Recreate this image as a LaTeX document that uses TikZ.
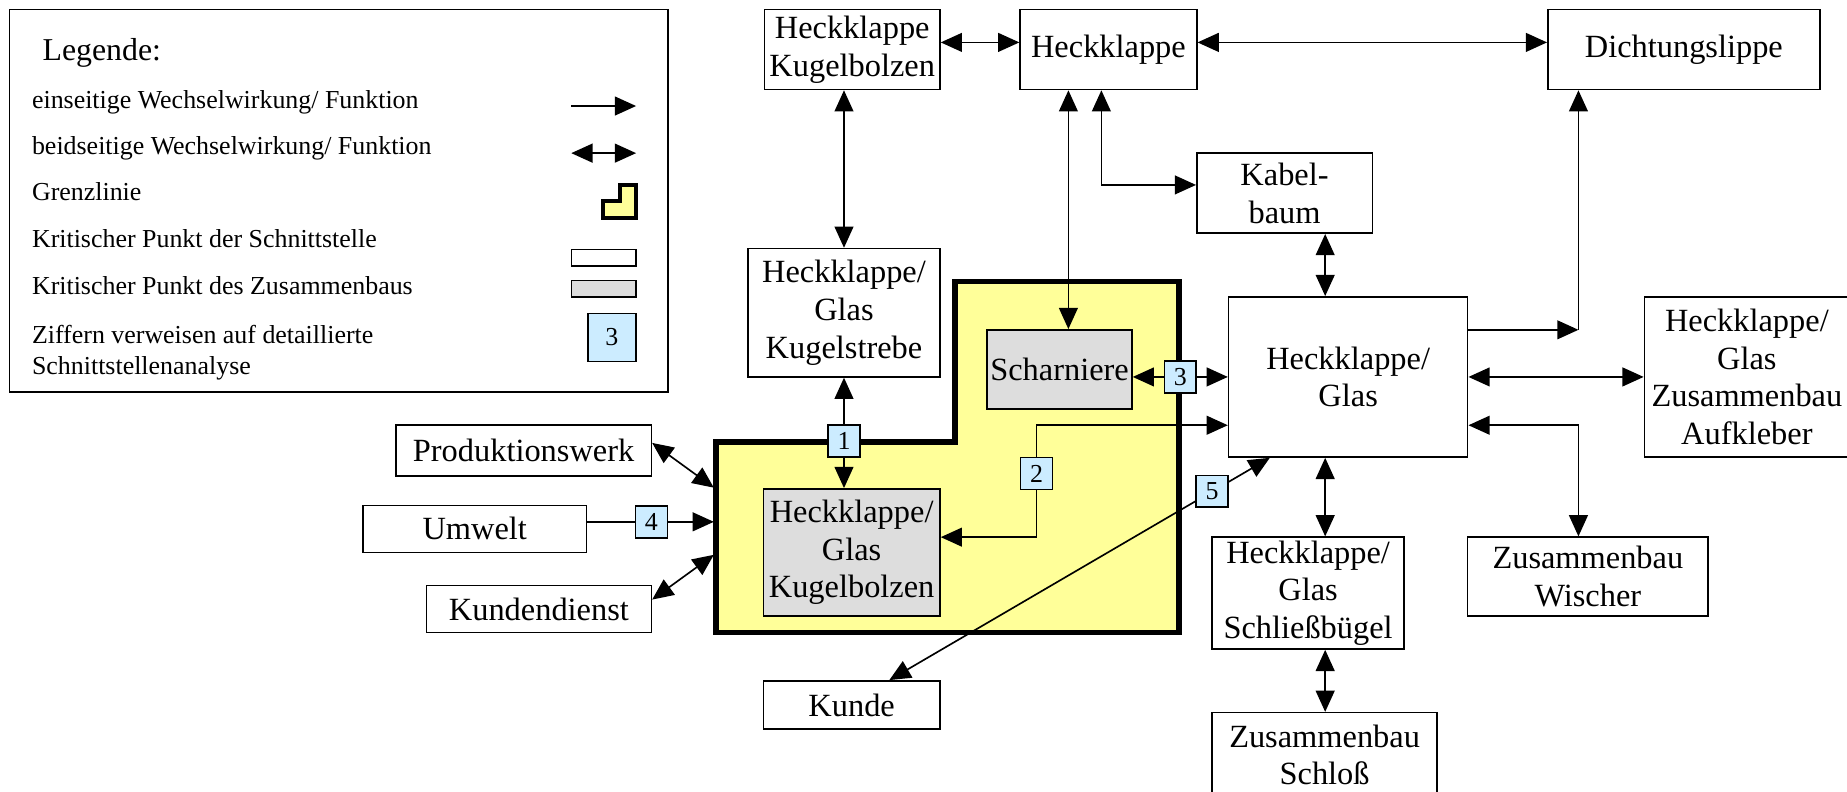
\documentclass[tikz,border=0pt]{standalone}
\usepackage{fontspec}
\setmainfont{Liberation Serif}
\usetikzlibrary{arrows.meta}
\definecolor{zoneyellow}{HTML}{FFFF99}
\definecolor{asmgray}{HTML}{DDDDDD}
\definecolor{refblue}{HTML}{CCECFF}
\pgfdeclarelayer{zone}
\pgfdeclarelayer{wires}
\pgfsetlayers{zone,wires,main}
\newcommand{\boxfont}{\fontsize{27.5}{32}\selectfont}
\newcommand{\legfont}{\fontsize{22}{26}\selectfont}

\begin{document}
\begin{tikzpicture}[x=1pt,y=-1pt,
  blk/.style={draw, line width=1.3pt, fill=white, align=center, inner sep=0pt, font=\boxfont},
  asm/.style={blk, fill=asmgray},
  numbox/.style={draw, line width=1.3pt, fill=refblue, minimum width=27pt, minimum height=27pt, inner sep=0pt, font=\legfont},
  wire/.style={line width=1.4pt},
  onetip/.style={wire, -{Triangle[length=18pt,width=16pt]}},
  twotip/.style={wire, {Triangle[length=18pt,width=16pt]}-{Triangle[length=18pt,width=16pt]}},
  legtext/.style={anchor=base west, inner sep=0pt, font=\legfont},
  zoneline/.style={line width=4.8pt, line join=miter},
]
\useasboundingbox (0,0) rectangle (1568,672);

% ---------- legend ----------
\node[draw, line width=1.5pt, minimum width=559pt, minimum height=325pt, inner sep=0pt] (legend) at (287.5,170.5) {};
\node[anchor=base west, inner sep=0pt, font=\fontsize{27}{32}\selectfont] (legtitle) at (36,51) {Legende:};
\node[legtext] (leg1) at (27,92) {einseitige Wechselwirkung/ Funktion};
\node[legtext] (leg2) at (27,131) {beidseitige Wechselwirkung/ Funktion};
\node[legtext] (leg3) at (27,170) {Grenzlinie};
\node[legtext] (leg4) at (27,210) {Kritischer Punkt der Schnittstelle};
\node[legtext] (leg5) at (27,250) {Kritischer Punkt des Zusammenbaus};
\node[legtext] (leg6) at (27,292) {Ziffern verweisen auf detaillierte};
\node[legtext] (leg6b) at (27,318) {Schnittstellenanalyse};
\draw[onetip] (485,90) -- (540,90);
\draw[twotip] (485,130) -- (540,130);
\draw[zoneline, line width=3.5pt, fill=zoneyellow] (512,171) -- (526,171) -- (526,157) -- (540,157) -- (540,185) -- (512,185) -- cycle;
\draw[line width=1.3pt, fill=white] (485,212) rectangle (540,226);
\draw[line width=1.3pt, fill=asmgray] (485,238) rectangle (540,252);
\node[numbox, minimum width=41pt, minimum height=41pt] (legnum) at (519.5,286.5) {3};

% ---------- boundary of the analysed assembly ----------
\begin{pgfonlayer}{zone}
\draw[zoneline, fill=zoneyellow] (608,375) -- (811,375) -- (811,239) -- (1001,239) -- (1001,537) -- (608,537) -- cycle;
\end{pgfonlayer}
\coordinate (gateP) at (606,414);
\coordinate (gateU) at (606,443);
\coordinate (gateK) at (606,471);

% ---------- components ----------
\node[blk, minimum width=149pt, minimum height=68pt] (kbtop) at (723.5,42) {Heckklappe\\Kugelbolzen};
\node[blk, minimum width=150pt, minimum height=68pt] (hk) at (941,42) {Heckklappe};
\node[blk, minimum width=231pt, minimum height=68pt] (dicht) at (1429.5,42) {Dichtungslippe};
\node[blk, minimum width=149pt, minimum height=68pt] (kabel) at (1090.5,164) {Kabel-\\baum};
\node[blk, minimum width=163pt, minimum height=109pt] (strebe) at (716.5,265.5) {Heckklappe/\\Glas\\Kugelstrebe};
\node[asm, minimum width=123pt, minimum height=67pt] (scharn) at (899.5,313.5) {Scharniere};
\node[blk, minimum width=203pt, minimum height=136pt] (hkglas) at (1144.5,320) {Heckklappe/\\Glas};
\node[blk, minimum width=174pt, minimum height=136pt] (aufkl) at (1483,320) {Heckklappe/\\Glas\\Zusammenbau\\Aufkleber};
\node[blk, minimum width=217pt, minimum height=43pt] (prod) at (444.5,382.5) {Produktionswerk};
\node[blk, minimum width=190pt, minimum height=40pt] (umwelt) at (403,449) {Umwelt};
\node[blk, minimum width=191pt, minimum height=40pt] (kdienst) at (457.5,517) {Kundendienst};
\node[asm, minimum width=150pt, minimum height=108pt] (kbgray) at (723,469) {Heckklappe/\\Glas\\Kugelbolzen};
\node[blk, minimum width=150pt, minimum height=41pt] (kunde) at (723,598.5) {Kunde};
\node[blk, minimum width=163pt, minimum height=95pt] (schliess) at (1110.5,503.5) {Heckklappe/\\Glas\\Schließbügel};
\node[blk, minimum width=204pt, minimum height=67pt] (wischer) at (1348,489.5) {Zusammenbau\\Wischer};
\node[blk, minimum width=191pt, minimum height=72pt] (schloss) at (1124.5,641) {Zusammenbau\\Schloß};

% ---------- interface numbers ----------
\node[numbox] (n1) at (716.5,374.5) {1};
\node[numbox] (n2) at (880,402) {2};
\node[numbox] (n3) at (1002,320) {3};
\node[numbox] (n4) at (553,443) {4};
\node[numbox] (n5) at (1029,417) {5};

% ---------- routing helpers ----------
\coordinate (lvl36) at (0,36);
\coordinate (lvl157) at (0,157);
\coordinate (lvl361) at (0,361);
\coordinate (lvl376) at (0,376);
\coordinate (lvl456) at (0,456);
\coordinate (lvl509) at (0,509);
\coordinate (col907) at (907,0);
\coordinate (col935) at (935,0);
\coordinate (col1125) at (1125,0);
\coordinate (col755) at (755,0);
\coordinate (col1078) at (1078,0);
\coordinate (bend) at (1340,280);

% ---------- interactions ----------
\begin{pgfonlayer}{wires}
\draw[twotip] (kbtop.east |- lvl36) -- (hk.west |- lvl36);
\draw[twotip] (hk.east |- lvl36) -- (dicht.west |- lvl36);
\draw[twotip] (kbtop.south -| n1) -- (strebe.north -| n1);
\draw[twotip] (hk.south -| col907) -- (scharn.north -| col907);
\draw[twotip] (hk.south -| col935) |- (kabel.west |- lvl157);
\draw[twotip] (kabel.south -| col1125) -- (hkglas.north -| col1125);
\draw[onetip] (hkglas.east |- bend) -- (bend);
\draw[onetip] (bend) -- (dicht.south -| bend);
\draw[twotip] (hkglas.east) -- (aufkl.west);
\draw[twotip] (hkglas.east |- lvl361) -| (wischer.north -| bend);
\draw[twotip] (hkglas.south -| col1125) -- (schliess.north -| col1125);
\draw[twotip] (schliess.south -| col1125) -- (schloss.north -| col1125);
\draw[twotip] (scharn.east |- n3) -- (hkglas.west |- n3);
\draw[twotip] (kbgray.east |- lvl456) -| (n2.center) |- (hkglas.west |- lvl361);
\draw[twotip] (strebe.south -| n1) -- (kbgray.north -| n1);
\draw[twotip] (prod.east |- lvl376) -- (gateP);
\draw[onetip] (umwelt.east |- n4) -- (gateU);
\draw[twotip] (kdienst.east |- lvl509) -- (gateK);
\draw[twotip] (kunde.north -| col755) -- (hkglas.south -| col1078);
\end{pgfonlayer}
\end{tikzpicture}
\end{document}
